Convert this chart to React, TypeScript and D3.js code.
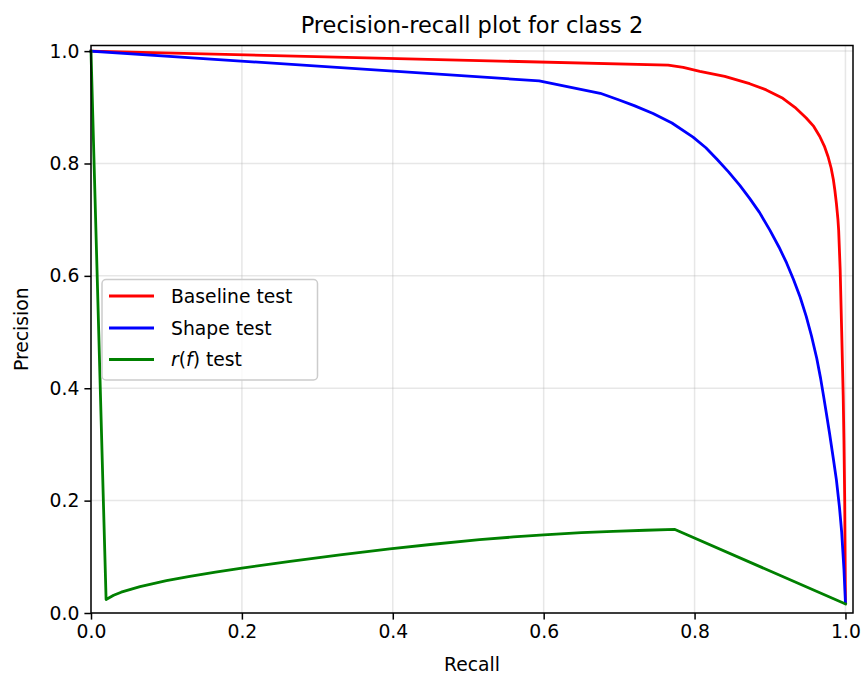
import React, { useEffect, useRef } from 'react';
import * as d3 from 'd3';

// values
const baselineRecall = [0, 0.765, 0.785, 0.807, 0.84, 0.873, 0.895, 0.917, 0.933, 0.948, 0.958, 0.966, 0.972, 0.977, 0.981, 0.984, 0.986, 0.988, 0.99, 0.991, 0.993, 0.995, 0.997, 0.998, 0.999, 1.0];
const baselinePrecision = [1.0, 0.975, 0.971, 0.964, 0.955, 0.942, 0.931, 0.916, 0.9, 0.881, 0.866, 0.848, 0.831, 0.812, 0.792, 0.771, 0.752, 0.729, 0.701, 0.681, 0.611, 0.501, 0.387, 0.307, 0.202, 0.017];

const shapeRecall = [0, 0.594, 0.675, 0.7, 0.72, 0.745, 0.77, 0.798, 0.815, 0.83, 0.845, 0.86, 0.873, 0.886, 0.9, 0.912, 0.922, 0.931, 0.94, 0.948, 0.955, 0.962, 0.967, 0.971, 0.975, 0.979, 0.984, 0.988, 0.992, 0.995, 0.998, 1.0];
const shapePrecision = [1.0, 0.947, 0.925, 0.913, 0.903, 0.889, 0.872, 0.847, 0.828, 0.807, 0.785, 0.761, 0.738, 0.713, 0.681, 0.651, 0.623, 0.594, 0.562, 0.528, 0.493, 0.453, 0.418, 0.386, 0.353, 0.319, 0.274, 0.237, 0.189, 0.144, 0.078, 0.018];

const rfRecall = [0, 0.02, 0.03, 0.04, 0.065, 0.1, 0.131, 0.165, 0.2, 0.264, 0.33, 0.396, 0.45, 0.515, 0.56, 0.6, 0.65, 0.692, 0.735, 0.774, 1.0];
const rfPrecision = [1.0, 0.024, 0.0315, 0.037, 0.047, 0.0575, 0.0653, 0.0728, 0.0798, 0.092, 0.1035, 0.1141, 0.1219, 0.1304, 0.1353, 0.1391, 0.1429, 0.1454, 0.1473, 0.1487, 0.016];

const tickValues = [0, 0.2, 0.4, 0.6, 0.8, 1.0];

const seriesNames = ['Baseline test', 'Shape test', 'r(f) test'];
const seriesColors = ['#ff0000', '#0000ff', '#008000'];

const W = 863;
const H = 677;
const FONT = 'DejaVu Sans, sans-serif';

const App = () => {
  const svgRef = useRef<SVGSVGElement>(null);

  useEffect(() => {
    document.body.style.margin = '0';
    const margin = { top: 45.5, right: 10, bottom: 64, left: 91 };

    const svg = d3.select(svgRef.current)
      .attr('width', W)
      .attr('height', H)
      .style('display', 'block')
      .style('background', '#fff');
    svg.selectAll('*').remove();

    const x = d3.scaleLinear().domain([0, 1.01]).range([margin.left, W - margin.right]);
    const y = d3.scaleLinear().domain([0, 1.01]).range([H - margin.bottom, margin.top]);

    // grid
    const grid = svg.append('g');
    grid.selectAll('.gx').data(tickValues).enter().append('line')
      .attr('x1', d => x(d)).attr('x2', d => x(d))
      .attr('y1', y.range()[0]).attr('y2', y.range()[1])
      .attr('stroke', '#b0b0b0').attr('stroke-opacity', 0.3).attr('stroke-width', 1.5);
    grid.selectAll('.gy').data(tickValues).enter().append('line')
      .attr('y1', d => y(d)).attr('y2', d => y(d))
      .attr('x1', x.range()[0]).attr('x2', x.range()[1])
      .attr('stroke', '#b0b0b0').attr('stroke-opacity', 0.3).attr('stroke-width', 1.5);

    // lines
    const series = [
      { xs: baselineRecall, ys: baselinePrecision },
      { xs: shapeRecall, ys: shapePrecision },
      { xs: rfRecall, ys: rfPrecision },
    ];
    const line = d3.line<[number, number]>()
      .x(d => x(d[0]))
      .y(d => y(d[1]));

    series.forEach((s, i) => {
      const pts = s.xs.map((v, j) => [v, s.ys[j]] as [number, number]);
      svg.append('path')
        .datum(pts)
        .attr('fill', 'none')
        .attr('stroke', seriesColors[i])
        .attr('stroke-width', 2.8)
        .attr('stroke-linejoin', 'round')
        .attr('stroke-linecap', 'square')
        .attr('d', line);
    });

    // axes
    const xAxis = d3.axisBottom(x).tickValues(tickValues).tickFormat(d3.format('.1f')).tickSize(6.6).tickPadding(5);
    const yAxis = d3.axisLeft(y).tickValues(tickValues).tickFormat(d3.format('.1f')).tickSize(6.6).tickPadding(5);

    const gx = svg.append('g')
      .attr('transform', `translate(0,${H - margin.bottom})`)
      .call(xAxis);
    const gy = svg.append('g')
      .attr('transform', `translate(${margin.left},0)`)
      .call(yAxis);

    [gx, gy].forEach(g => {
      g.select('.domain').remove();
      g.selectAll('.tick line').attr('stroke', '#000').attr('stroke-width', 1.5);
      g.selectAll('.tick text')
        .attr('fill', '#000')
        .style('font-family', FONT)
        .style('font-size', '18.75px');
    });

    // frame
    svg.append('rect')
      .attr('x', margin.left)
      .attr('y', margin.top)
      .attr('width', W - margin.left - margin.right)
      .attr('height', H - margin.top - margin.bottom)
      .attr('fill', 'none')
      .attr('stroke', '#000')
      .attr('stroke-width', 1.5);

    // title and axis labels
    const cx = (x.range()[0] + x.range()[1]) / 2;
    svg.append('text')
      .attr('x', cx).attr('y', 33)
      .attr('text-anchor', 'middle')
      .style('font-family', FONT).style('font-size', '22.5px')
      .text('Precision-recall plot for class 2');

    svg.append('text')
      .attr('x', cx).attr('y', 671)
      .attr('text-anchor', 'middle')
      .style('font-family', FONT).style('font-size', '18.75px')
      .text('Recall');

    const cy = (y.range()[0] + y.range()[1]) / 2;
    svg.append('text')
      .attr('transform', `translate(28,${cy}) rotate(-90)`)
      .attr('text-anchor', 'middle')
      .style('font-family', FONT).style('font-size', '18.75px')
      .text('Precision');

    // legend
    const legend = svg.append('g');
    legend.append('rect')
      .attr('x', 102).attr('y', 279.5)
      .attr('width', 215.5).attr('height', 100.5)
      .attr('rx', 4)
      .attr('fill', '#fff').attr('fill-opacity', 0.8)
      .attr('stroke', '#cccccc').attr('stroke-width', 1.5);

    const rowY = [296, 328, 359.5];
    seriesNames.forEach((name, i) => {
      legend.append('line')
        .attr('x1', 109).attr('x2', 154)
        .attr('y1', rowY[i]).attr('y2', rowY[i])
        .attr('stroke', seriesColors[i]).attr('stroke-width', 2.8);
      const t = legend.append('text')
        .attr('x', 171).attr('y', rowY[i] + 6.8)
        .style('font-family', FONT).style('font-size', '18.75px');
      if (name === 'r(f) test') {
        t.append('tspan').style('font-style', 'italic').text('r');
        t.append('tspan').text('(');
        t.append('tspan').style('font-style', 'italic').text('f');
        t.append('tspan').text(') test');
      } else {
        t.text(name);
      }
    });
  }, []);

  return <svg ref={svgRef}></svg>;
};

export default App;
